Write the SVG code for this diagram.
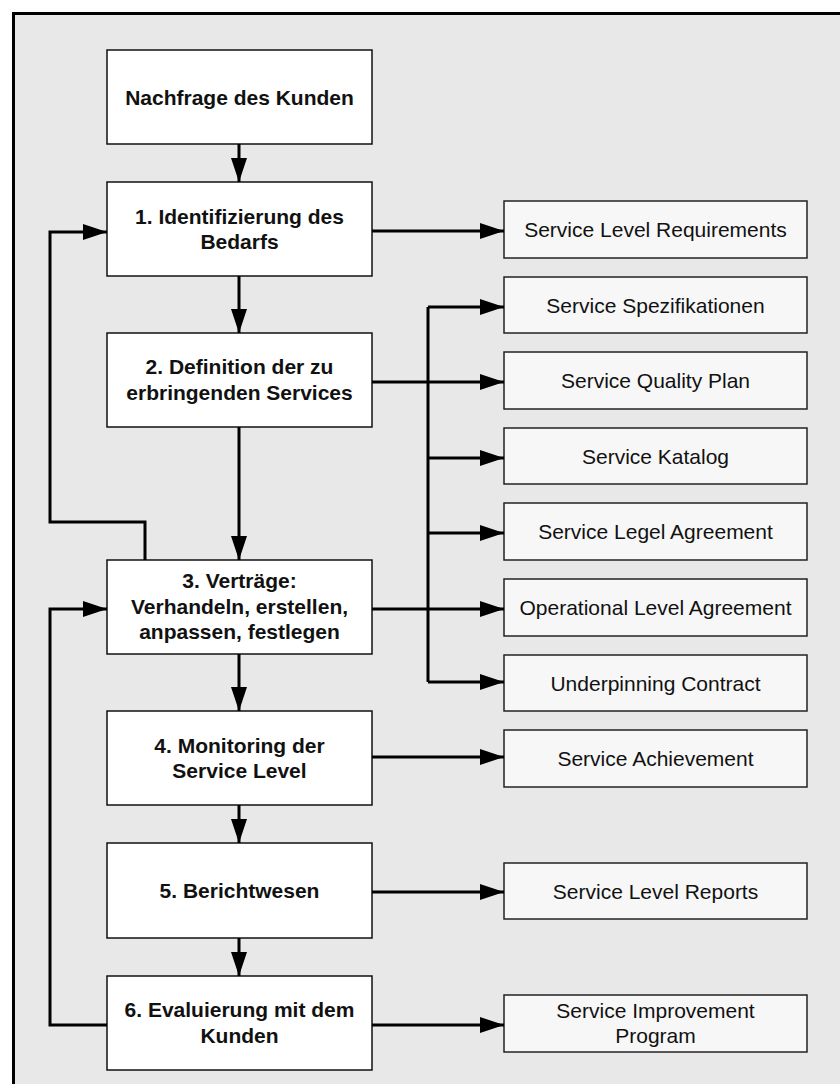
<svg xmlns="http://www.w3.org/2000/svg" width="840" height="1084" viewBox="0 0 840 1084">
  <defs>
    <marker id="arrow" viewBox="0 0 24 16" refX="24" refY="8" markerWidth="24" markerHeight="16" markerUnits="userSpaceOnUse" orient="auto">
      <path d="M0,0 L24,8 L0,16 Z" fill="#000"/>
    </marker>
    <style>
      .main rect { fill: #ffffff; stroke: #111; stroke-width: 1.5; }
      .main text { font-family: "Liberation Sans", Arial, sans-serif; font-weight: bold; font-size: 21px; fill: #111; text-anchor: middle; }
      .out rect { fill: #f7f7f7; stroke: #222; stroke-width: 1.5; }
      .out text { font-family: "Liberation Sans", Arial, sans-serif; font-size: 21px; fill: #111; text-anchor: middle; }
      .conn path { fill: none; stroke: #000; stroke-width: 3; }
    </style>
  </defs>

  <!-- page background and frame -->
  <rect x="0" y="0" width="840" height="1084" fill="#ffffff"/>
  <rect x="13.5" y="13.5" width="840" height="1090" fill="#e8e8e8" stroke="#000" stroke-width="3"/>

  <!-- process steps -->
  <g id="n0" class="main">
    <rect x="107" y="50" width="265" height="94"/>
    <text x="239.5" y="104.5">Nachfrage des Kunden</text>
  </g>
  <g id="n1" class="main">
    <rect x="107" y="182" width="265" height="94"/>
    <text x="239.5" y="223.5">1. Identifizierung des</text>
    <text x="239.5" y="249">Bedarfs</text>
  </g>
  <g id="n2" class="main">
    <rect x="107" y="333" width="265" height="94"/>
    <text x="239.5" y="374">2. Definition der zu</text>
    <text x="239.5" y="399.5">erbringenden Services</text>
  </g>
  <g id="n3" class="main">
    <rect x="107" y="560" width="265" height="94"/>
    <text x="239.5" y="588">3. Verträge:</text>
    <text x="239.5" y="613.5">Verhandeln, erstellen,</text>
    <text x="239.5" y="639">anpassen, festlegen</text>
  </g>
  <g id="n4" class="main">
    <rect x="107" y="711" width="265" height="94"/>
    <text x="239.5" y="752.5">4. Monitoring der</text>
    <text x="239.5" y="778">Service Level</text>
  </g>
  <g id="n5" class="main">
    <rect x="107" y="843" width="265" height="95"/>
    <text x="239.5" y="897.5">5. Berichtwesen</text>
  </g>
  <g id="n6" class="main">
    <rect x="107" y="976" width="265" height="94"/>
    <text x="239.5" y="1017">6. Evaluierung mit dem</text>
    <text x="239.5" y="1042.5">Kunden</text>
  </g>

  <!-- deliverables -->
  <g id="o1" class="out">
    <rect x="504" y="201" width="303" height="57"/>
    <text x="655.5" y="237">Service Level Requirements</text>
  </g>
  <g id="o2" class="out">
    <rect x="504" y="277" width="303" height="56"/>
    <text x="655.5" y="312.5">Service Spezifikationen</text>
  </g>
  <g id="o3" class="out">
    <rect x="504" y="352" width="303" height="57"/>
    <text x="655.5" y="388">Service Quality Plan</text>
  </g>
  <g id="o4" class="out">
    <rect x="504" y="428" width="303" height="56"/>
    <text x="655.5" y="463.5">Service Katalog</text>
  </g>
  <g id="o5" class="out">
    <rect x="504" y="503" width="303" height="57"/>
    <text x="655.5" y="539">Service Legel Agreement</text>
  </g>
  <g id="o6" class="out">
    <rect x="504" y="579" width="303" height="57"/>
    <text x="655.5" y="615">Operational Level Agreement</text>
  </g>
  <g id="o7" class="out">
    <rect x="504" y="655" width="303" height="56"/>
    <text x="655.5" y="690.5">Underpinning Contract</text>
  </g>
  <g id="o8" class="out">
    <rect x="504" y="730" width="303" height="57"/>
    <text x="655.5" y="766">Service Achievement</text>
  </g>
  <g id="o9" class="out">
    <rect x="504" y="863" width="303" height="56"/>
    <text x="655.5" y="898.5">Service Level Reports</text>
  </g>
  <g id="o10" class="out">
    <rect x="504" y="995" width="303" height="57"/>
    <text x="655.5" y="1018">Service Improvement</text>
    <text x="655.5" y="1043">Program</text>
  </g>

  <!-- connectors -->
  <g id="connectors" class="conn">
    <!-- main flow -->
    <path d="M239,144 V182" marker-end="url(#arrow)"/>
    <path d="M239,276 V333" marker-end="url(#arrow)"/>
    <path d="M239,427 V560" marker-end="url(#arrow)"/>
    <path d="M239,654 V711" marker-end="url(#arrow)"/>
    <path d="M239,805 V843" marker-end="url(#arrow)"/>
    <path d="M239,938 V976" marker-end="url(#arrow)"/>

    <!-- feedback loops -->
    <path d="M145,560 V522 H50 V232 H107" marker-end="url(#arrow)"/>
    <path d="M107,1025 H50 V609 H107" marker-end="url(#arrow)"/>

    <!-- outputs -->
    <path d="M372,231 H504" marker-end="url(#arrow)"/>
    <path d="M372,382 H504" marker-end="url(#arrow)"/>
    <path d="M372,609 H504" marker-end="url(#arrow)"/>
    <path d="M428,307 V682"/>
    <path d="M428,307 H504" marker-end="url(#arrow)"/>
    <path d="M428,458 H504" marker-end="url(#arrow)"/>
    <path d="M428,533 H504" marker-end="url(#arrow)"/>
    <path d="M428,682 H504" marker-end="url(#arrow)"/>
    <path d="M372,757 H504" marker-end="url(#arrow)"/>
    <path d="M372,892 H504" marker-end="url(#arrow)"/>
    <path d="M372,1025 H504" marker-end="url(#arrow)"/>
  </g>
</svg>
